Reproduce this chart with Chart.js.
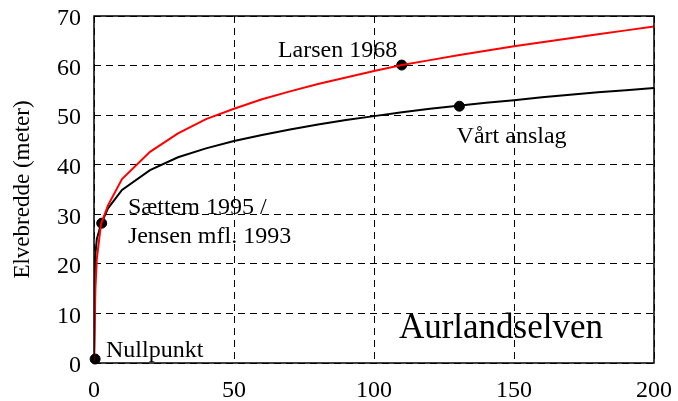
<!DOCTYPE html>
<html>
<head>
<meta charset="utf-8">
<script src="https://cdn.jsdelivr.net/npm/chart.js@4/dist/chart.umd.min.js"></script>
<style>
  html, body { margin: 0; padding: 0; background: #fff; }
  #wrap { width: 678px; height: 401px; }
</style>
</head>
<body>
<div id="wrap"><canvas id="elvChart" width="678" height="401"></canvas></div>
<script>
// x = distance, y = river width (meter)
var xLarsen = [0, 0.5, 1, 2.5, 5, 10, 20, 30, 40, 50, 60, 70, 80, 90, 100, 110, 120, 130, 140, 150, 160, 170, 180, 190, 200];
var yLarsen = [0, 15, 21, 28, 31.8, 37.1, 42.6, 46.3, 49.2, 51.3, 53.2, 54.8, 56.3, 57.6, 58.9, 60.1, 61.1, 62.1, 63.0, 63.9, 64.7, 65.5, 66.3, 67.1, 67.9];
var xOurs = [0, 0.5, 1, 2.5, 5, 10, 20, 30, 40, 50, 60, 70, 80, 90, 100, 110, 120, 130, 140, 150, 160, 170, 180, 190, 200];
var yOurs = [0, 22, 25, 28, 31.2, 34.9, 38.9, 41.5, 43.3, 44.8, 46.0, 47.1, 48.1, 49.0, 49.8, 50.6, 51.3, 51.9, 52.5, 53.0, 53.6, 54.1, 54.6, 55.0, 55.5];
var xDots = [0.4, 2.75, 109.9, 130.5];
var yDots = [0.8, 28.2, 60.1, 51.8];
var xTicks = [0, 50, 100, 150, 200];
var yTicks = [0, 10, 20, 30, 40, 50, 60, 70];

// text labels, left end of the baseline in data units
var notes = [
    { text: "Larsen 1968", x: 65.7, y: 61.7, size: 24 },
    { text: "Vårt anslag", x: 129.5, y: 44.4, size: 24 },
    { text: "Sættem 1995 /", x: 12.1, y: 30.0, size: 24 },
    { text: "Jensen mfl. 1993", x: 12.1, y: 24.2, size: 24 },
    { text: "Nullpunkt", x: 4.3, y: 1.3, size: 24 },
    { text: "Aurlandselven", x: 108.9, y: 5.1, size: 35 }
];

function toPts(xs, ys) {
    var out = [];
    for (let i = 0; i < xs.length; i++) out.push({ x: xs[i], y: ys[i] });
    return out;
}

var serif = "'Liberation Serif', 'Times New Roman', serif";

var boxAndNotes = {
    id: 'boxAndNotes',
    afterDatasetsDraw: function (chart) {
        var ctx = chart.ctx;
        var a = chart.chartArea;
        var sx = chart.scales.x, sy = chart.scales.y;
        ctx.save();
        ctx.strokeStyle = '#000';
        ctx.lineWidth = 1.5;
        ctx.setLineDash([]);
        ctx.strokeRect(a.left, a.top, a.right - a.left, a.bottom - a.top);
        ctx.fillStyle = '#000';
        ctx.textBaseline = 'alphabetic';
        ctx.textAlign = 'left';
        notes.forEach(function (n) {
            ctx.font = n.size + 'px ' + serif;
            ctx.fillText(n.text, sx.getPixelForValue(n.x), sy.getPixelForValue(n.y));
        });
        ctx.restore();
    }
};

new Chart("elvChart", {
    type: "scatter",
    data: {
        datasets: [{
            type: "line",
            data: toPts(xLarsen, yLarsen),
            borderColor: "#ff0000",
            borderWidth: 2,
            pointRadius: 0,
            tension: 0,
            fill: false
        }, {
            type: "line",
            data: toPts(xOurs, yOurs),
            borderColor: "#000000",
            borderWidth: 2,
            pointRadius: 0,
            tension: 0,
            fill: false
        }, {
            data: toPts(xDots, yDots),
            backgroundColor: "#000",
            borderColor: "#000",
            pointRadius: 5,
            clip: false
        }]
    },
    options: {
        responsive: false,
        animation: false,
        devicePixelRatio: 1,
        layout: { padding: { left: 0, right: 24, top: 16, bottom: 0 } },
        plugins: {
            legend: { display: false },
            tooltip: { enabled: false }
        },
        scales: {
            x: {
                type: "linear",
                min: 0, max: 200,
                afterBuildTicks: function (s) { s.ticks = xTicks.map(v => ({ value: v })); },
                afterFit: function (s) { s.height = 38; s.paddingLeft = 0; s.paddingRight = 0; },
                grid: { color: "#000", lineWidth: 1, drawTicks: false },
                border: { display: false, dash: [7, 5] },
                ticks: { color: "#000", padding: 13, maxRotation: 0, font: { family: serif, size: 24 } }
            },
            y: {
                min: 0, max: 70,
                afterBuildTicks: function (s) { s.ticks = yTicks.map(v => ({ value: v })); },
                afterFit: function (s) { s.width = 94; s.paddingTop = 0; s.paddingBottom = 0; },
                grid: { color: "#000", lineWidth: 1, drawTicks: false },
                border: { display: false, dash: [7, 5] },
                ticks: { color: "#000", padding: 13, labelOffset: 3, font: { family: serif, size: 24 } },
                title: {
                    display: true,
                    text: "Elvebredde (meter)",
                    color: "#000",
                    padding: { top: 9, bottom: 0 },
                    font: { family: serif, size: 23 }
                }
            }
        }
    },
    plugins: [boxAndNotes]
});
</script>
</body>
</html>
